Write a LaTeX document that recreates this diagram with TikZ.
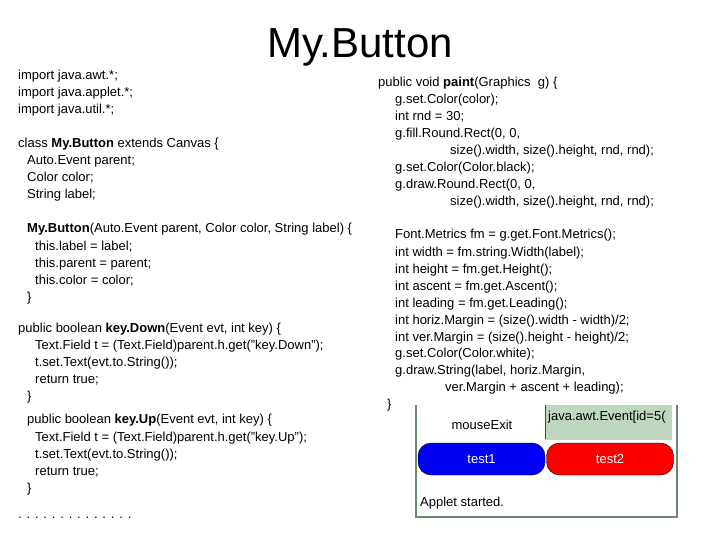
\documentclass[tikz,border=0pt]{standalone}
\usepackage{fontspec}
\setmainfont{Liberation Sans}
\begin{document}
\begin{tikzpicture}[x=1pt,y=-1pt,
  code/.style={anchor=base west,inner sep=0pt,font=\fontsize{13}{15}\selectfont},
  btn/.style={draw=black,rounded corners=13pt,minimum width=127pt,minimum height=32pt,inner sep=0pt,font=\fontsize{13}{15}\selectfont,text=white}]
\useasboundingbox (0,0) rectangle (720,540);
\node[anchor=base,inner sep=0pt,font=\fontsize{42}{46}\selectfont] (title) at (360,58) {My.Button};
% left column
\node[code] (l1) at (18,80) {import java.awt.*;};
\node[code] (l2) at (18,97) {import java.applet.*;};
\node[code] (l3) at (18,114) {import java.util.*;};
\node[code] (l4) at (18,148) {class \textbf{My.Button} extends Canvas \{};
\node[code] (l5) at (27,165) {Auto.Event parent;};
\node[code] (l6) at (27,182) {Color color;};
\node[code] (l7) at (27,199) {String label;};
\node[code] (l8) at (27,233) {\textbf{My.Button}(Auto.Event parent, Color color, String label) \{};
\node[code] (l9) at (35,250) {this.label = label;};
\node[code] (l10) at (35,267) {this.parent = parent;};
\node[code] (l11) at (35,284) {this.color = color;};
\node[code] (l12) at (27,301) {\}};
\node[code] (l13) at (18,332) {public boolean \textbf{key.Down}(Event evt, int key) \{};
\node[code] (l14) at (35,349) {Text.Field t = (Text.Field)parent.h.get("key.Down");};
\node[code] (l15) at (35,366) {t.set.Text(evt.to.String());};
\node[code] (l16) at (35,383) {return true;};
\node[code] (l17) at (27,400) {\}};
\node[code] (l18) at (27,423) {public boolean \textbf{key.Up}(Event evt, int key) \{};
\node[code] (l19) at (35,441) {Text.Field t = (Text.Field)parent.h.get("key.Up");};
\node[code] (l20) at (35,458) {t.set.Text(evt.to.String());};
\node[code] (l21) at (35,475) {return true;};
\node[code] (l22) at (27,492) {\}};
\node[code] (l23) at (18,518) {. . . . . . . . . . . . . .};
% right column
\node[code] (r1) at (378,87) {public void \textbf{paint}(Graphics\ \ g) \{};
\node[code] (r2) at (395,104) {g.set.Color(color);};
\node[code] (r3) at (395,121) {int rnd = 30;};
\node[code] (r4) at (395,138) {g.fill.Round.Rect(0, 0,};
\node[code] (r5) at (450,155) {size().width, size().height, rnd, rnd);};
\node[code] (r6) at (395,172) {g.set.Color(Color.black);};
\node[code] (r7) at (395,189) {g.draw.Round.Rect(0, 0,};
\node[code] (r8) at (450,206) {size().width, size().height, rnd, rnd);};
\node[code] (r9) at (395,239) {Font.Metrics fm = g.get.Font.Metrics();};
\node[code] (r10) at (395,256) {int width = fm.string.Width(label);};
\node[code] (r11) at (395,273) {int height = fm.get.Height();};
\node[code] (r12) at (395,290) {int ascent = fm.get.Ascent();};
\node[code] (r13) at (395,307) {int leading = fm.get.Leading();};
\node[code] (r14) at (395,324) {int horiz.Margin = (size().width - width)/2;};
\node[code] (r15) at (395,341) {int ver.Margin = (size().height - height)/2;};
\node[code] (r16) at (395,357) {g.set.Color(Color.white);};
\node[code] (r17) at (395,374) {g.draw.String(label, horiz.Margin,};
\node[code] (r18) at (445,391) {ver.Margin + ascent + leading);};
\node[code] (r19) at (387,408) {\}};
% applet screenshot
\fill[white] (415,410) rectangle (677,517);
\draw[draw={rgb,255:red,110;green,135;blue,110},line width=1.5pt] (416,405) -- (416,517) -- (677,517) -- (677,405);
\fill[fill={rgb,255:red,190;green,215;blue,190}] (545,405) rectangle (672,440);
\draw[draw={rgb,255:red,60;green,80;blue,60},line width=1pt] (545,405) -- (545,439);
\begin{scope}
\clip (546,405) rectangle (672,440);
\node[code] (ta) at (548,420) {java.awt.Event[id=5(};
\end{scope}
\node[anchor=base,inner sep=0pt,font=\fontsize{13}{15}\selectfont] (mx) at (482,429) {mouseExit};
\node[btn,fill={rgb,255:red,0;green,0;blue,245}] (b1) at (481.5,459) {test1};
\node[btn,fill={rgb,255:red,250;green,0;blue,0}] (b2) at (610,459) {test2};
\node[code] (st) at (420,506) {Applet started.};
\end{tikzpicture}
\end{document}
